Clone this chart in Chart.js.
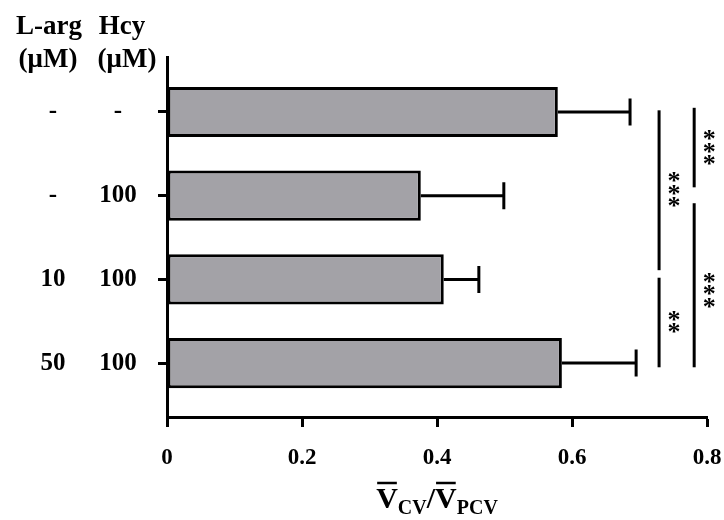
<!DOCTYPE html>
<html>
<head>
<meta charset="utf-8">
<script src="https://cdn.jsdelivr.net/npm/chart.js@4.4.1/dist/chart.umd.min.js"></script>
<style>
  html, body { margin: 0; padding: 0; background: #fff; }
  #wrap { width: 724px; height: 520px; }
</style>
</head>
<body>
<div id="wrap"><canvas id="chart"></canvas></div>
<script>
// --- DATA ---
const lArg = ['-', '-', '10', '50'];
const hcy = ['-', '100', '100', '100'];
const ratio = [0.579, 0.376, 0.410, 0.585];
const errHigh = [0.686, 0.499, 0.462, 0.695];
const xTicks = [0, 0.2, 0.4, 0.6, 0.8];

// significance brackets: x position, row span, stars and where the stars sit
const bracketX = [0.729, 0.729, 0.781, 0.781];
const bracketFrom = [-0.02, 1.98, -0.05, 1.09];
const bracketTo = [1.89, 3.05, 0.90, 3.05];
const bracketStars = ['***', '**', '***', '***'];
const starRow = [0.93, 2.51, 0.43, 2.13];

const SERIF = "'Liberation Serif', 'Times New Roman', serif";

const extras = {
    id: 'extras',
    afterDatasetsDraw(chart) {
        const ctx = chart.ctx;
        const x = chart.scales.x, y = chart.scales.y;
        ctx.save();
        ctx.strokeStyle = '#000';
        ctx.fillStyle = '#000';
        ctx.lineWidth = 3;

        // error bars
        ratio.forEach((v, i) => {
            const yp = y.getPixelForValue(i);
            const x1 = x.getPixelForValue(v), x2 = x.getPixelForValue(errHigh[i]);
            ctx.beginPath();
            ctx.moveTo(x1, yp); ctx.lineTo(x2, yp);
            ctx.moveTo(x2, yp - 13.5); ctx.lineTo(x2, yp + 13.5);
            ctx.stroke();
        });

        // brackets + stars
        ctx.font = 'bold 26px ' + SERIF;
        ctx.textAlign = 'center';
        ctx.textBaseline = 'alphabetic';
        const m = ctx.measureText('*');
        const starOff = (m.actualBoundingBoxAscent - m.actualBoundingBoxDescent) / 2;
        bracketX.forEach((bx, k) => {
            const xp = x.getPixelForValue(bx);
            ctx.beginPath();
            ctx.moveTo(xp, y.getPixelForValue(bracketFrom[k]));
            ctx.lineTo(xp, y.getPixelForValue(bracketTo[k]));
            ctx.stroke();
            const n = bracketStars[k].length;
            const cy = y.getPixelForValue(starRow[k]);
            const sx = xp + 15;
            for (let s = 0; s < n; s++) {
                const sy = cy + (s - (n - 1) / 2) * 12.5;
                ctx.fillText('*', sx, sy + starOff);
            }
        });

        // row labels and headers
        ctx.textBaseline = 'middle';
        ctx.font = 'bold 25px ' + SERIF;
        lArg.forEach((t, i) => {
            const yp = y.getPixelForValue(i);
            ctx.fillText(t, 53, yp);
            ctx.fillText(hcy[i], 118, yp);
        });
        ctx.textBaseline = 'alphabetic';
        ctx.font = 'bold 27px ' + SERIF;
        ctx.fillText('L-arg', 49, 34);
        ctx.fillText('(\u03BCM)', 48, 67);
        ctx.fillText('Hcy', 122, 34);
        ctx.fillText('(\u03BCM)', 127, 67);

        // axis title: V̄CV / V̄PCV
        const parts = [
            { t: 'V', big: true, bar: true }, { t: 'CV', big: false },
            { t: '/', big: true }, { t: 'V', big: true, bar: true }, { t: 'PCV', big: false }
        ];
        const bigFont = 'bold 30px ' + SERIF, smallFont = 'bold 20px ' + SERIF;
        let total = 0;
        parts.forEach(p => { ctx.font = p.big ? bigFont : smallFont; p.w = ctx.measureText(p.t).width; total += p.w; });
        let cx = (chart.chartArea.left + chart.chartArea.right) / 2 - total / 2;
        const base = 508;
        ctx.textAlign = 'left';
        parts.forEach(p => {
            ctx.font = p.big ? bigFont : smallFont;
            ctx.fillText(p.t, cx, p.big ? base : base + 6);
            if (p.bar) {
                ctx.lineWidth = 2.5;
                ctx.beginPath();
                ctx.moveTo(cx + 1, base - 25); ctx.lineTo(cx + p.w - 1, base - 25);
                ctx.stroke();
            }
            cx += p.w;
        });
        ctx.restore();
    }
};

new Chart(document.getElementById('chart'), {
    type: 'bar',
    data: {
        datasets: [{
            data: ratio.map((v, i) => ({ x: v, y: i })),
            backgroundColor: '#a3a2a7',
            borderColor: '#000',
            borderWidth: 3,
            borderSkipped: false,
            barPercentage: 0.6,
            categoryPercentage: 1
        }]
    },
    options: {
        indexAxis: 'y',
        responsive: true,
        maintainAspectRatio: false,
        animation: false,
        layout: { padding: { top: 57, right: 17, left: 0, bottom: 0 } },
        plugins: { legend: { display: false }, tooltip: { enabled: false } },
        scales: {
            x: {
                type: 'linear',
                min: 0, max: 0.8,
                afterBuildTicks: s => { s.ticks = xTicks.map(v => ({ value: v })); },
                afterFit: s => { s.height = 103; s.paddingLeft = 0; s.paddingRight = 0; },
                border: { color: '#000', width: 3 },
                grid: { drawOnChartArea: false, drawTicks: true, tickLength: 10, tickWidth: 3, tickColor: '#000' },
                ticks: { color: '#000', padding: 17, font: { family: SERIF, size: 23, weight: 'bold' } }
            },
            y: {
                type: 'linear',
                reverse: true,
                offset: false,
                min: -0.657, max: 3.644,
                afterBuildTicks: s => { s.ticks = lArg.map((_, i) => ({ value: i })); },
                afterFit: s => { s.width = 167; s.paddingTop = 0; s.paddingBottom = 0; },
                border: { color: '#000', width: 3 },
                grid: { offset: false, drawOnChartArea: false, drawTicks: true, tickLength: 9, tickWidth: 3, tickColor: '#000' },
                ticks: { display: false }
            }
        }
    },
    plugins: [extras]
});
</script>
</body>
</html>
